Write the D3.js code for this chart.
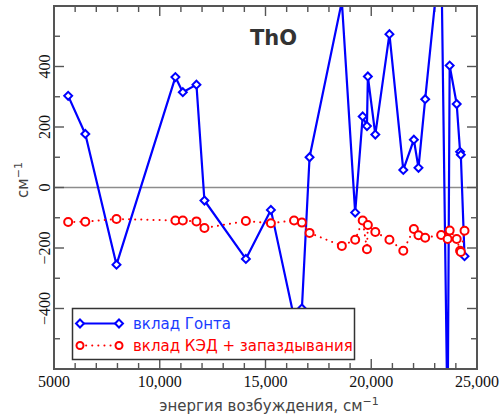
<!DOCTYPE html>
<html><head><meta charset="utf-8">
<script src="https://cdn.jsdelivr.net/npm/d3@7"></script>
<style>body{margin:0;background:#fff}svg{display:block}</style>
</head><body>
<svg id="c" width="502" height="416"></svg>
<script>
const energies = [5670, 6480, 7955, 10740, 11090, 11735, 12113, 14072, 15255, 16350, 16721, 17083, 18610, 19240, 19595, 19797, 19840, 20192, 20860, 21515, 22015, 22233, 22550, 23305, 23610, 23708, 24040, 24201, 24235, 24410];
const gonta = [303, 177, -255, 365, 315, 340, -43, -236, -74, -430, -400, 100, 615, -83, 235, 203, 367, 175, 507, 58, 158, 65, 292, 810, -800, 403, 276, 118, 108, -227];
const qed = [-114, -113, -104, -109, -109, -112, -134, -111, -118, -109, -116, -150, -193, -173, -109, -204, -124, -147, -173, -209, -137, -158, -166, -157, -170, -142, -170, -209, -213, -143];
const xMajor = [5000, 10000, 15000, 20000, 25000];
const xMajorLabels = ["5000", "10,000", "15,000", "20,000", "25,000"];
const yMajor = [-400, -200, 0, 200, 400];
const yMajorLabels = ["\u2212400", "\u2212200", "0", "200", "400"];
const seriesNames = ["вклад Гонта", "вклад КЭД + запаздывания"];
const title = "ThO";

const L = 54, R = 477, T = 6, B = 369;
const svg = d3.select("#c");
const x = d3.scaleLinear().domain([5000, 25000]).range([L, R]);
const y = d3.scaleLinear().domain([-600, 600]).range([B, T]);
const xMinor = d3.range(5000, 25001, 1000).filter(v => v % 5000 !== 0);
const yMinor = d3.range(-600, 601, 100).filter(v => v % 200 !== 0 && Math.abs(v) !== 600);

svg.append("defs").append("clipPath").attr("id", "clip")
  .append("rect").attr("x", L).attr("y", T).attr("width", R - L).attr("height", B - T);

// zero line
svg.append("line").attr("x1", L).attr("x2", R).attr("y1", y(0)).attr("y2", y(0))
  .attr("stroke", "#8c8c8c").attr("stroke-width", 1.6);

// ticks
const tk = svg.append("g").attr("stroke", "#555").attr("stroke-width", 1.4);
function xt(v, len) {
  tk.append("line").attr("x1", x(v)).attr("x2", x(v)).attr("y1", B).attr("y2", B - len);
  tk.append("line").attr("x1", x(v)).attr("x2", x(v)).attr("y1", T).attr("y2", T + len);
}
function yt(v, len) {
  tk.append("line").attr("y1", y(v)).attr("y2", y(v)).attr("x1", L).attr("x2", L + len);
  tk.append("line").attr("y1", y(v)).attr("y2", y(v)).attr("x1", R).attr("x2", R - len);
}
xMajor.forEach(v => xt(v, 10)); xMinor.forEach(v => xt(v, 6));
yMajor.forEach(v => yt(v, 10)); yMinor.forEach(v => yt(v, 6));

// title
svg.append("text").attr("x", 250).attr("y", 45).text(title)
  .attr("font-family", "DejaVu Sans").attr("font-weight", "bold").attr("font-size", 21).attr("fill", "#333");

const plot = svg.append("g").attr("clip-path", "url(#clip)");
const idx = d3.range(energies.length);
const lineG = d3.line().x(i => x(energies[i])).y(i => y(gonta[i]));
const lineQ = d3.line().x(i => x(energies[i])).y(i => y(qed[i]));
const diamond = d3.symbol().type(d3.symbolDiamond2).size(40);

plot.append("path").attr("d", lineG(idx)).attr("fill", "none").attr("stroke", "#0000ff").attr("stroke-width", 2.2).attr("stroke-linejoin", "round");
plot.selectAll(".dg").data(idx).join("path").attr("d", diamond)
  .attr("transform", i => `translate(${x(energies[i])},${y(gonta[i])})`)
  .attr("fill", "#fff").attr("stroke", "#0000ff").attr("stroke-width", 2);

plot.append("path").attr("d", lineQ(idx)).attr("fill", "none").attr("stroke", "#ff0000").attr("stroke-width", 2)
  .attr("stroke-dasharray", "0.1,6").attr("stroke-linecap", "round");
plot.selectAll(".cq").data(idx).join("circle")
  .attr("cx", i => x(energies[i])).attr("cy", i => y(qed[i])).attr("r", 4)
  .attr("fill", "#fff").attr("stroke", "#ff0000").attr("stroke-width", 2);

// frame
svg.append("rect").attr("x", L).attr("y", T).attr("width", R - L).attr("height", B - T)
  .attr("fill", "none").attr("stroke", "#555").attr("stroke-width", 2);

// tick labels
xMajor.forEach((v, i) => svg.append("text").attr("x", x(v)).attr("y", 387).attr("text-anchor", "middle")
  .attr("font-family", "Liberation Serif").attr("font-size", 16).attr("fill", "#111").text(xMajorLabels[i]));
yMajor.forEach((v, i) => svg.append("text").attr("transform", `translate(50,${y(v)}) rotate(-90)`).attr("text-anchor", "middle")
  .attr("font-family", "Liberation Serif").attr("font-size", 16).attr("fill", "#111").text(yMajorLabels[i]));

// axis titles
const xl = svg.append("text").attr("x", 269).attr("y", 411).attr("text-anchor", "middle")
  .attr("font-family", "DejaVu Sans").attr("font-size", 15).attr("fill", "#444");
xl.append("tspan").text("энергия возбуждения, см");
xl.append("tspan").attr("dy", -6).attr("font-size", 11).text("\u22121");
const yl = svg.append("text").attr("transform", "translate(28,180) rotate(-90)").attr("text-anchor", "middle")
  .attr("font-family", "DejaVu Sans").attr("font-size", 15).attr("fill", "#444");
yl.append("tspan").text("см");
yl.append("tspan").attr("dy", -6).attr("font-size", 11).text("\u22121");

// legend
const lg = svg.append("g");
lg.append("rect").attr("x", 72.5).attr("y", 308.5).attr("width", 282).attr("height", 51)
  .attr("fill", "#fff").attr("stroke", "#333").attr("stroke-width", 1.5);
const ly = [323.5, 345.5];
lg.append("line").attr("x1", 80).attr("x2", 119).attr("y1", ly[0]).attr("y2", ly[0]).attr("stroke", "#0000ff").attr("stroke-width", 2.2);
[80, 119].forEach(px => lg.append("path").attr("d", diamond).attr("transform", `translate(${px},${ly[0]})`)
  .attr("fill", "#fff").attr("stroke", "#0000ff").attr("stroke-width", 2));
lg.append("line").attr("x1", 80).attr("x2", 119).attr("y1", ly[1]).attr("y2", ly[1]).attr("stroke", "#ff0000").attr("stroke-width", 2)
  .attr("stroke-dasharray", "0.1,6").attr("stroke-linecap", "round");
[80, 119].forEach(px => lg.append("circle").attr("cx", px).attr("cy", ly[1]).attr("r", 3.5)
  .attr("fill", "#fff").attr("stroke", "#ff0000").attr("stroke-width", 2));
lg.append("text").attr("x", 133).attr("y", ly[0] + 5.5).text(seriesNames[0])
  .attr("font-family", "DejaVu Sans").attr("font-size", 15).attr("fill", "#1a3cff");
lg.append("text").attr("x", 133).attr("y", ly[1] + 5.5).text(seriesNames[1])
  .attr("font-family", "DejaVu Sans").attr("font-size", 15).attr("fill", "#ff0000");
</script>
</body></html>
